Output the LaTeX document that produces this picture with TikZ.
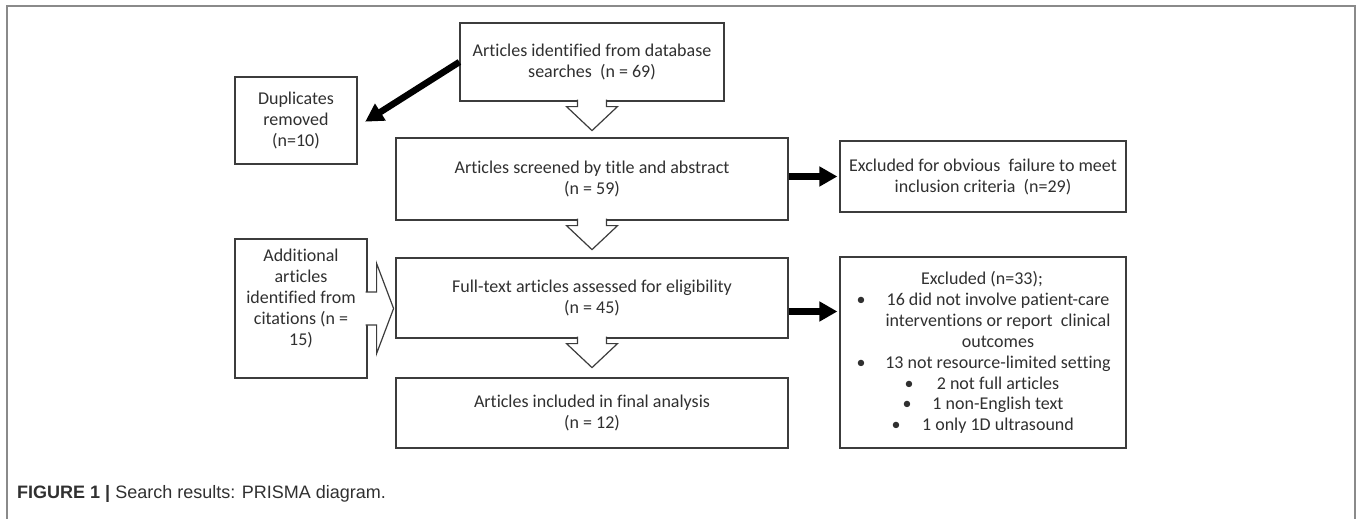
\documentclass[tikz,border=0pt]{standalone}
\usepackage{fontspec}
\setmainfont{Carlito}[Ligatures=NoCommon]
\newfontfamily\capfont{Liberation Sans}
\usetikzlibrary{arrows.meta}
\usetikzlibrary{calc}
\definecolor{boxline}{HTML}{3C3C3C}
\definecolor{txtgray}{HTML}{303030}
\definecolor{framegray}{HTML}{8A8A8A}

\begin{document}
\begin{tikzpicture}[x=1pt, y=-1pt,
  box/.style={draw=boxline, line width=1.2pt, fill=white, inner sep=0pt, align=center,
    text=txtgray, font=\fontsize{18}{21}\selectfont},
  lineitem/.style={inner sep=0pt, text=txtgray, font=\fontsize{18}{21}\selectfont,
    text height=12pt, text depth=4pt},
  fatarrow/.style={line width=6.5pt, -{Triangle[length=18pt,width=19pt]}},
  hollow/.style={draw=boxline, line width=1.2pt, fill=white, line join=miter}]
\useasboundingbox (0,0) rectangle (1357,519);
\draw[framegray, line width=1.5pt] (7,525) -- (7,6) -- (1355,6) -- (1355,525);

% boxes of the flow
\node[box, minimum width=264pt, minimum height=78pt] (ident) at (592,62) {Articles identified from database\\searches \ (n = 69)};
\node[box, minimum width=122pt, minimum height=87pt] (dup) at (296,120.5) {Duplicates\\removed\\(n=10)};
\node[box, minimum width=392pt, minimum height=82pt] (screen) at (592,179) {Articles screened by title and abstract\\(n = 59)};
\node[box, minimum width=286pt, minimum height=71pt] (excl1) at (983,176.5) {Excluded for obvious \ failure to meet\\inclusion criteria \ (n=29)};
\node[box, minimum width=392pt, minimum height=80pt] (full) at (592,298) {Full-text articles assessed for eligibility\\(n = 45)};
\node[box, minimum width=132pt, minimum height=139pt] (addl) at (301,308.5) {};
\node[box, draw=none, fill=none] (addltext) at ([yshift=10pt]addl.center) {Additional\\articles\\identified from\\citations (n =\\15)};
\node[box, minimum width=392pt, minimum height=70pt] (final) at (592,413) {Articles included in final analysis\\(n = 12)};
\node[box, minimum width=286pt, minimum height=191pt] (excl2) at (983,352.5) {};

% reasons for exclusion
\node[lineitem] (ex0) at (982,280) {Excluded (n=33);};
\foreach \ln/\yy [count=\i] in {16 did not involve patient-care/301, interventions or report \ clinical/322,
    outcomes/343, 13 not resource-limited setting/364, 2 not full articles/385,
    1 non-English text/405, 1 only 1D ultrasound/426}
  \node[lineitem] (ex\i) at (998,\yy) {\ln};
\foreach \bx/\yy [count=\j] in {861/301, 861/364, 909/385, 907/405, 896/426}
  \node[lineitem] (bul\j) at (\bx,\yy) {\textbullet};

% block arrows
\draw[hollow] ($(ident.south)+(-14.5,-2)$) -- ++(0,7) -- ++(-11,0) -- ++(25.5,24) -- ++(25.5,-24) -- ++(-11,0) -- ++(0,-7);
\draw[hollow] ($(screen.south)+(-14.5,-2)$) -- ++(0,7) -- ++(-11,0) -- ++(25.5,24) -- ++(25.5,-24) -- ++(-11,0) -- ++(0,-7);
\draw[hollow] ($(full.south)+(-14.5,-2)$) -- ++(0,7) -- ++(-11,0) -- ++(25.5,24) -- ++(25.5,-24) -- ++(-11,0) -- ++(0,-7);
\draw[hollow] ($(addl.east)+(-2,-16.5)$) -- ++(11,0) -- ++(0,-28.5) -- ++(17,45) -- ++(-17,45) -- ++(0,-28.5) -- ++(-11,0);

% solid arrows
\draw[fatarrow, shorten >=9pt] (ident.west) -- ([yshift=-6pt]dup.east);
\draw[fatarrow, shorten >=2pt] (screen.east |- excl1.west) -- (excl1.west);
\coordinate (fullout) at ([yshift=-13.5pt]full.east);
\draw[fatarrow, shorten >=2pt] (fullout) -- (fullout -| excl2.west);

% caption
\node[anchor=base west, inner sep=0pt, text=txtgray, font=\capfont\fontsize{18}{21}\selectfont] (caption) at (17,498) {\textbf{FIGURE 1 |} Search results: PRISMA diagram.};
\end{tikzpicture}
\end{document}
